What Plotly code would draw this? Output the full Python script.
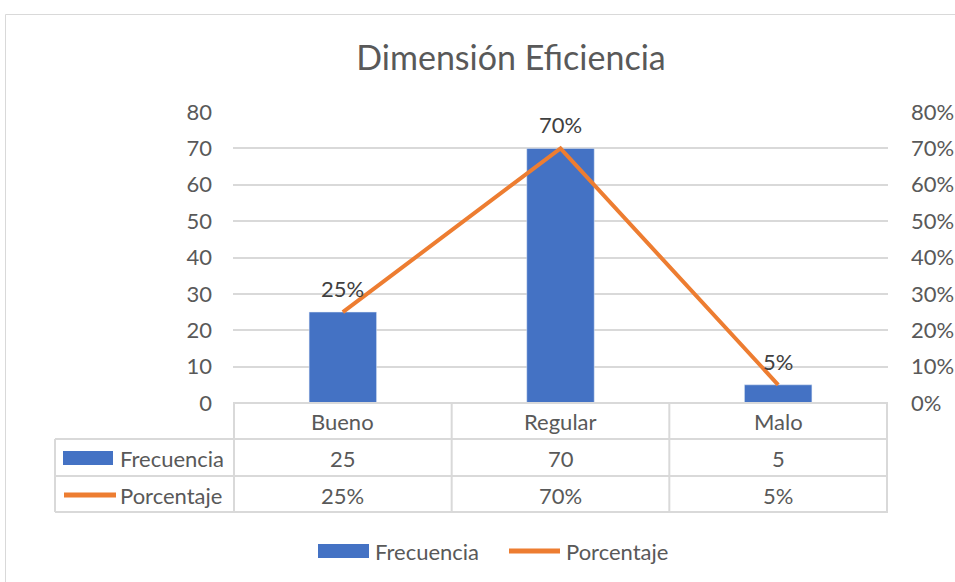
import plotly.graph_objects as go

categories = ["Bueno", "Regular", "Malo"]
frecuencia = [25, 70, 5]
porcentaje = [0.25, 0.70, 0.05]
pct_labels = ["25%", "70%", "5%"]
freq_labels = ["25", "70", "5"]

W, H = 955, 582
L, R, T, B = 233, 888, 112, 403
pw, ph = R - L, B - T

def px(x):
    return (x - L) / pw

def py(y):
    return (B - y) / ph

FONT = "Lato"
TXT = "#595959"
GRID = "#D9D9D9"
BLUE = "#4472C4"
ORANGE = "#ED7D31"
FS = 22

fig = go.Figure()
fig.add_trace(go.Bar(x=categories, y=frecuencia, name="Frecuencia",
                     marker_color=BLUE, width=0.31, yaxis="y"))
fig.add_trace(go.Scatter(x=categories, y=porcentaje, name="Porcentaje",
                         mode="lines", line=dict(color=ORANGE, width=4),
                         yaxis="y2"))

shapes = []
shapes.append(dict(type="rect", xref="paper", yref="paper",
                   x0=px(5.5), x1=px(975), y0=py(600), y1=py(14.5),
                   line=dict(color=GRID, width=1), layer="below"))
rows = [403, 439, 476, 512]
for i, yv in enumerate(rows):
    x0 = 233 if i == 0 else 55
    shapes.append(dict(type="line", xref="paper", yref="paper",
                       x0=px(x0), x1=px(888), y0=py(yv), y1=py(yv),
                       line=dict(color=GRID, width=2)))
shapes.append(dict(type="line", xref="paper", yref="paper",
                   x0=px(55), x1=px(55), y0=py(439), y1=py(512),
                   line=dict(color=GRID, width=2)))
for xv in [-0.5, 0.5, 1.5, 2.5]:
    shapes.append(dict(type="line", xref="x", yref="paper",
                       x0=xv, x1=xv, y0=py(403), y1=py(512),
                       line=dict(color=GRID, width=2)))
# table legend keys
shapes.append(dict(type="rect", xref="paper", yref="paper",
                   x0=px(63), x1=px(113), y0=py(465), y1=py(451),
                   fillcolor=BLUE, line=dict(width=0)))
shapes.append(dict(type="line", xref="paper", yref="paper",
                   x0=px(64), x1=px(116), y0=py(495), y1=py(495),
                   line=dict(color=ORANGE, width=5)))
# bottom legend keys
shapes.append(dict(type="rect", xref="paper", yref="paper",
                   x0=px(318), x1=px(369), y0=py(558), y1=py(544),
                   fillcolor=BLUE, line=dict(width=0)))
shapes.append(dict(type="line", xref="paper", yref="paper",
                   x0=px(509), x1=px(560), y0=py(551), y1=py(551),
                   line=dict(color=ORANGE, width=5)))

def txt(x, y, t, xref="paper", xanchor="center"):
    return dict(x=x, y=y, xref=xref, yref="paper", text=t, showarrow=False,
                xanchor=xanchor, yanchor="middle",
                font=dict(family=FONT, size=FS, color=TXT))

ann = []
for c, fl, pl in zip(categories, freq_labels, pct_labels):
    ann.append(txt(c, py(421), c, xref="x"))
    ann.append(txt(c, py(458), fl, xref="x"))
    ann.append(txt(c, py(495), pl, xref="x"))
ann.append(txt(px(118), py(458), "Frecuencia", xanchor="left"))
ann.append(txt(px(118), py(495), "Porcentaje", xanchor="left"))
ann.append(txt(px(373), py(551), "Frecuencia", xanchor="left"))
ann.append(txt(px(564), py(551), "Porcentaje", xanchor="left"))
for c, v, pl in zip(categories, porcentaje, pct_labels):
    ann.append(dict(x=c, y=v, xref="x", yref="y2", text=pl, showarrow=False,
                    xanchor="center", yanchor="bottom", yshift=8,
                    font=dict(family=FONT, size=FS, color="#404040")))

fig.update_layout(
    width=W, height=H,
    margin=dict(l=L, r=W - R, t=T, b=H - B, autoexpand=False),
    paper_bgcolor="white", plot_bgcolor="white",
    title=dict(text="Dimensión Eficiencia", xref="container",
               x=511 / W, xanchor="center",
               y=1 - 58 / H, yanchor="middle",
               font=dict(family=FONT, size=34, color=TXT)),
    xaxis=dict(showticklabels=False, showgrid=False, showline=False,
               zeroline=False, ticks="", automargin=False),
    yaxis=dict(range=[0, 80], dtick=10, showgrid=True, gridcolor=GRID,
               gridwidth=1.5, zeroline=False, showline=False, ticks="",
               ticklabelstandoff=20, automargin=False,
               tickfont=dict(family=FONT, size=FS, color=TXT)),
    yaxis2=dict(range=[0, 0.8], dtick=0.1, tickformat=".0%", overlaying="y",
                side="right", showgrid=False, zeroline=False, showline=False,
                ticks="", ticklabelstandoff=22, automargin=False,
                tickfont=dict(family=FONT, size=FS, color=TXT)),
    showlegend=False,
    shapes=shapes, annotations=ann,
)

fig.write_html("out.html",
               config={"displayModeBar": False},
               post_script="document.body.style.margin='0';document.body.style.overflow='hidden';")
